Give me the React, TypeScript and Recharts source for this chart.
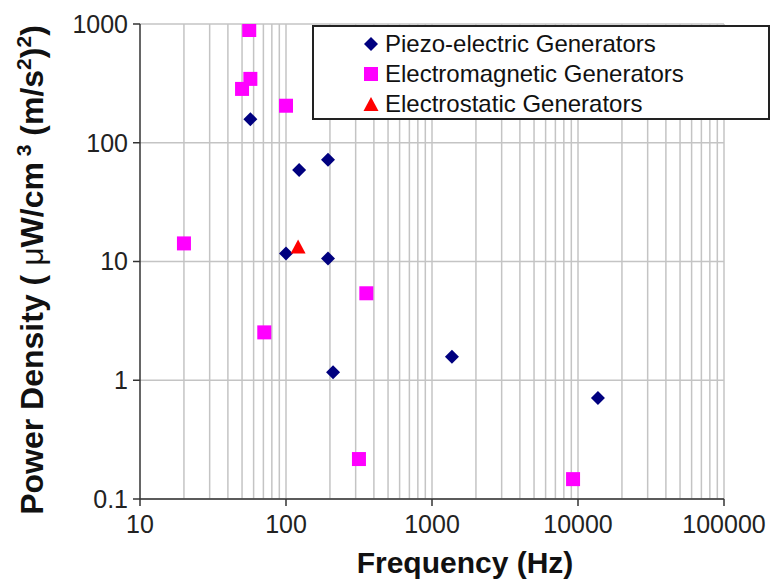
import React from 'react';
import {
  ScatterChart,
  Scatter,
  XAxis,
  YAxis,
  CartesianGrid,
  ReferenceLine,
} from 'recharts';

// frequency (Hz) / power density (uW/cm3 (m/s2)2)
const piezoFreq = [57, 123, 194, 100, 194, 210, 1370, 13700];
const piezoPower = [158, 59, 72, 11.7, 10.6, 1.17, 1.58, 0.71];

const emFreq = [56, 57, 50, 100, 20, 355, 71, 316, 9250];
const emPower = [890, 345, 284, 205, 14.2, 5.4, 2.53, 0.217, 0.147];

const esFreq = [121];
const esPower = [13.1];

const xTicks = [10, 100, 1000, 10000, 100000];
const yTicks = [0.1, 1, 10, 100, 1000];

const xGrid = [
  20, 30, 40, 50, 60, 70, 80, 90, 100,
  200, 300, 400, 500, 600, 700, 800, 900, 1000,
  2000, 3000, 4000, 5000, 6000, 7000, 8000, 9000, 10000,
  20000, 30000, 40000, 50000, 60000, 70000, 80000, 90000, 100000,
];

const seriesNames = [
  'Piezo-electric Generators',
  'Electromagnetic Generators',
  'Electrostatic Generators',
];
const seriesColors = ['#00007f', '#ff00ff', '#ff0000'];

const toPoints = (xs: number[], ys: number[]) => xs.map((x, i) => ({ x, y: ys[i] }));

const piezo = toPoints(piezoFreq, piezoPower);
const em = toPoints(emFreq, emPower);
const es = toPoints(esFreq, esPower);

const font = '"Liberation Sans", Arial, sans-serif';

const Diamond = (props: any) => {
  const { cx, cy, fill } = props;
  const r = 7;
  return (
    <polygon
      points={`${cx},${cy - r} ${cx + r},${cy} ${cx},${cy + r} ${cx - r},${cy}`}
      fill={fill}
    />
  );
};

const Square = (props: any) => {
  const { cx, cy, fill } = props;
  const s = 14;
  return <rect x={cx - s / 2} y={cy - s / 2} width={s} height={s} fill={fill} />;
};

const Triangle = (props: any) => {
  const { cx, cy, fill } = props;
  return (
    <polygon
      points={`${cx},${cy - 8} ${cx + 7.5},${cy + 6} ${cx - 7.5},${cy + 6}`}
      fill={fill}
    />
  );
};

const XTitle = () => (
  <text
    x={465}
    y={573}
    textAnchor="middle"
    fontFamily={font}
    fontWeight="bold"
    fontSize={30}
    fill="#111"
  >
    Frequency (Hz)
  </text>
);

const YTitle = () => (
  <text
    transform="translate(43, 270) rotate(-90)"
    textAnchor="middle"
    fontFamily={font}
    fontWeight="bold"
    fontSize={32}
    fill="#111"
  >
    Power Density (
    <tspan fontWeight="normal"> μ</tspan>
    W/cm
    <tspan dy={-12} fontSize={21}> 3</tspan>
    <tspan dy={12}> (m/s</tspan>
    <tspan dy={-12} fontSize={21}>2</tspan>
    <tspan dy={12}>)</tspan>
    <tspan dy={-12} fontSize={21}>2</tspan>
    <tspan dy={12}>)</tspan>
  </text>
);

const LegendMarker = ({ i }: { i: number }) => (
  <svg width={16} height={16} style={{ marginRight: 6 }}>
    {i === 0 && <Diamond cx={8} cy={8} fill={seriesColors[0]} />}
    {i === 1 && <Square cx={8} cy={8} fill={seriesColors[1]} />}
    {i === 2 && <Triangle cx={8} cy={9} fill={seriesColors[2]} />}
  </svg>
);

export default function App() {
  return (
    <div style={{ position: 'absolute', left: 0, top: 0, width: 776, height: 584, background: '#fff' }}>
      <ScatterChart
        width={776}
        height={584}
        margin={{ top: 24, right: 52, bottom: 0, left: 0 }}
      >
        <CartesianGrid vertical={false} stroke="#c4c4c4" strokeWidth={1.5} />
        {xGrid.map((v) => (
          <ReferenceLine key={v} x={v} stroke="#c4c4c4" strokeWidth={1.5} />
        ))}
        <XAxis
          dataKey="x"
          type="number"
          scale="log"
          domain={[10, 100000]}
          ticks={xTicks}
          allowDataOverflow
          height={85}
          tickSize={7}
          tickMargin={9}
          stroke="#333"
          strokeWidth={1.5}
          tick={{ fontSize: 25, fontFamily: font, fill: '#222' }}
          label={{ content: () => <XTitle /> }}
        />
        <YAxis
          dataKey="y"
          type="number"
          scale="log"
          domain={[0.1, 1000]}
          ticks={yTicks}
          allowDataOverflow
          width={140}
          tickSize={7}
          tickMargin={5}
          stroke="#333"
          strokeWidth={1.5}
          tick={{ fontSize: 25, fontFamily: font, fill: '#222' }}
          label={{ content: () => <YTitle /> }}
        />
        <Scatter
          name={seriesNames[0]}
          data={piezo}
          fill={seriesColors[0]}
          shape={<Diamond />}
          isAnimationActive={false}
        />
        <Scatter
          name={seriesNames[1]}
          data={em}
          fill={seriesColors[1]}
          shape={<Square />}
          isAnimationActive={false}
        />
        <Scatter
          name={seriesNames[2]}
          data={es}
          fill={seriesColors[2]}
          shape={<Triangle />}
          isAnimationActive={false}
        />
      </ScatterChart>
      <div
        style={{
          position: 'absolute',
          left: 312,
          top: 25,
          width: 405,
          height: 91,
          border: '2px solid #222',
          background: '#fff',
          fontFamily: font,
          fontSize: 24,
          color: '#111',
          paddingLeft: 49,
          boxSizing: 'content-box',
        }}
      >
        {seriesNames.map((n, i) => (
          <div
            key={n}
            style={{ display: 'flex', alignItems: 'center', height: 30, marginTop: i === 0 ? 2 : 0 }}
          >
            <LegendMarker i={i} />
            <span>{n}</span>
          </div>
        ))}
      </div>
    </div>
  );
}
